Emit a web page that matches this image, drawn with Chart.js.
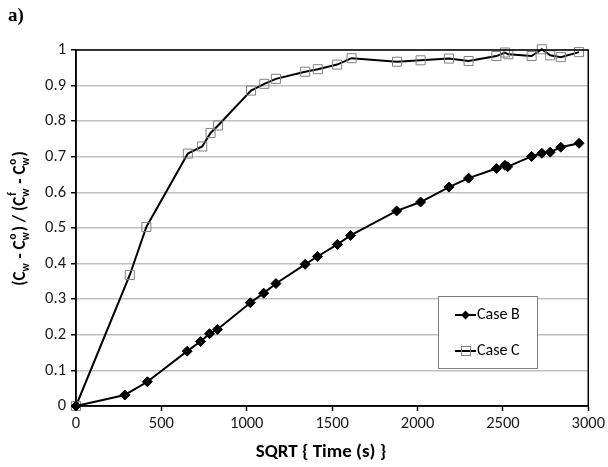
<!DOCTYPE html>
<html><head><meta charset="utf-8">
<script src="https://cdn.jsdelivr.net/npm/chart.js@4"></script>
<style>html,body{margin:0;padding:0;background:#fff;}#wrap{position:relative;width:608px;height:467px;}</style>
</head><body>
<div id="wrap"><canvas id="c" width="608" height="467"></canvas></div>
<script>
const seriesLabels = ['Case B', 'Case C'];
const caseBX = [0, 286, 418, 651, 729, 782, 828, 1021, 1099, 1171, 1342, 1414, 1531, 1608, 1878, 2018, 2184, 2299, 2462, 2512, 2528, 2668, 2728, 2777, 2839, 2946];
const caseBY = [0, 0.031, 0.068, 0.154, 0.181, 0.203, 0.215, 0.290, 0.317, 0.344, 0.398, 0.420, 0.454, 0.479, 0.548, 0.573, 0.615, 0.640, 0.667, 0.676, 0.672, 0.701, 0.710, 0.713, 0.727, 0.738];
const caseCX = [0, 315, 412, 655, 739, 788, 832, 1025, 1103, 1171, 1342, 1416, 1529, 1614, 1880, 2018, 2184, 2299, 2462, 2512, 2532, 2668, 2728, 2777, 2839, 2946];
const caseCY = [0, 0.368, 0.503, 0.709, 0.729, 0.767, 0.788, 0.886, 0.905, 0.919, 0.939, 0.946, 0.959, 0.977, 0.967, 0.971, 0.976, 0.969, 0.983, 0.993, 0.988, 0.983, 1.002, 0.985, 0.980, 0.994];
const xTickLabels = ['0', '500', '1000', '1500', '2000', '2500', '3000'];
const yTickLabels = ['0', '0.1', '0.2', '0.3', '0.4', '0.5', '0.6', '0.7', '0.8', '0.9', '1'];
const xTitle = 'SQRT { Time (s) }';
const panelLabel = 'a)';

const FONT = 'Carlito, Lato, sans-serif';

function pts(xs, ys){ return xs.map((x,i)=>({x:x, y:ys[i]})); }

const framePlugin = {
  id:'frame',
  afterDatasetsDraw(chart){
    const {ctx, chartArea:a} = chart;
    ctx.save();
    ctx.strokeStyle = '#000'; ctx.lineWidth = 1.5;
    ctx.strokeRect(a.left, a.top, a.right-a.left, a.bottom-a.top);
    ctx.restore();
  },
  afterDraw(chart){
    const ctx = chart.ctx; const a = chart.chartArea;
    ctx.save();
    // panel label
    ctx.fillStyle = '#000';
    ctx.font = 'bold 19px "Liberation Serif", serif';
    ctx.textBaseline = 'alphabetic'; ctx.textAlign = 'left';
    ctx.fillText(panelLabel, 8, 21);
    // x title
    ctx.font = 'bold 19px ' + FONT;
    ctx.textAlign = 'center'; ctx.textBaseline = 'middle';
    ctx.fillText(xTitle, 321, 452);
    // y title rich text
    const segs = [
      {t:'(C'},{sub:'w'},{t:' - C'},{sub:'w', sup:'o'},{t:') / (C'},{sub:'w', sup:'f'},{t:' - C'},{sub:'w', sup:'o'},{t:')'}
    ];
    const mainF = 'bold 17px ' + FONT, smallF = 'bold 11px ' + FONT;
    let total = 0;
    segs.forEach(s=>{
      if (s.t){ ctx.font = mainF; s.w = ctx.measureText(s.t).width; }
      else { ctx.font = smallF; s.w = Math.max(ctx.measureText(s.sub||'').width, ctx.measureText(s.sup||'').width) + 1; }
      total += s.w;
    });
    const cx = 19, cy = 218.5;
    ctx.translate(cx, cy); ctx.rotate(-Math.PI/2);
    let x = -total/2;
    ctx.textAlign = 'left'; ctx.textBaseline = 'alphabetic';
    segs.forEach(s=>{
      if (s.t){ ctx.font = mainF; ctx.fillText(s.t, x, 6); }
      else {
        ctx.font = smallF;
        if (s.sub) ctx.fillText(s.sub, x, 10);
        if (s.sup) ctx.fillText(s.sup, x + 1, -3);
      }
      x += s.w;
    });
    ctx.restore();
    // legend
    ctx.save();
    const L = 438, T = 296, R = 537, B = 368;
    ctx.fillStyle = '#fff'; ctx.fillRect(L, T, R-L, B-T);
    ctx.strokeStyle = '#7f7f7f'; ctx.lineWidth = 1;
    ctx.strokeRect(L+0.5, T+0.5, R-L, B-T);
    const rows = [315, 351];
    chart.data.datasets.forEach((ds, i)=>{
      const y = rows[i];
      ctx.strokeStyle = '#000'; ctx.lineWidth = 2;
      ctx.beginPath(); ctx.moveTo(455, y); ctx.lineTo(476, y); ctx.stroke();
      if (i === 0){
        ctx.fillStyle = '#000'; ctx.beginPath();
        ctx.moveTo(465.5, y-4.5); ctx.lineTo(470, y); ctx.lineTo(465.5, y+4.5); ctx.lineTo(461, y); ctx.closePath(); ctx.fill();
      } else {
        ctx.strokeStyle = '#808080'; ctx.lineWidth = 1;
        ctx.strokeRect(461.5, y-4.5, 9, 9);
      }
      ctx.fillStyle = '#000'; ctx.font = '16px ' + FONT;
      ctx.textAlign = 'left'; ctx.textBaseline = 'middle';
      ctx.fillText(ds.label, 477, y);
    });
    ctx.restore();
  }
};

new Chart(document.getElementById('c'), {
  type: 'scatter',
  data: {
    datasets: [
      { label: seriesLabels[0], data: pts(caseBX, caseBY), showLine: true, borderColor: '#000', borderWidth: 2,
        pointStyle: 'rectRot', pointRadius: 5, pointBackgroundColor: '#000', pointBorderColor: '#000', pointBorderWidth: 1, tension: 0, clip: false },
      { label: seriesLabels[1], data: pts(caseCX, caseCY), showLine: true, borderColor: '#000', borderWidth: 2,
        pointStyle: 'rect', pointRadius: 6.4, pointBackgroundColor: 'rgba(0,0,0,0)', pointBorderColor: '#808080', pointBorderWidth: 1, tension: 0, clip: false }
    ]
  },
  options: {
    responsive: false, animation: false,
    layout: { padding: { top: 50, right: 17, left: 0, bottom: 0 } },
    plugins: { legend: { display: false }, tooltip: { enabled: false } },
    scales: {
      x: {
        type: 'linear', min: 0, max: 3000,
        afterBuildTicks(s){ s.ticks = xTickLabels.map(v=>({value: Number(v)})); },
        afterFit(s){ s.height = 61; },
        grid: { drawOnChartArea: false, drawTicks: true, tickLength: 5, tickColor: '#000', tickWidth: 1.5 },
        border: { color: '#000', width: 1.5 },
        ticks: { color: '#1a1a1a', font: { family: FONT, size: 16.5 }, padding: 3, maxRotation: 0,
          callback: (v, i) => xTickLabels[i] },
        title: { display: false }
      },
      y: {
        type: 'linear', min: 0, max: 1,
        afterBuildTicks(s){ s.ticks = yTickLabels.map(v=>({value: Number(v)})); },
        afterFit(s){ s.width = 76; },
        grid: { color: '#bfbfbf', lineWidth: 1.5, drawTicks: true, tickLength: 5, tickColor: '#000', tickWidth: 1.5 },
        border: { color: '#000', width: 1.5 },
        ticks: { color: '#1a1a1a', font: { family: FONT, size: 16.5 }, padding: 5,
          callback: (v, i) => yTickLabels[i] }
      }
    }
  },
  plugins: [framePlugin]
});
</script>
</body></html>
